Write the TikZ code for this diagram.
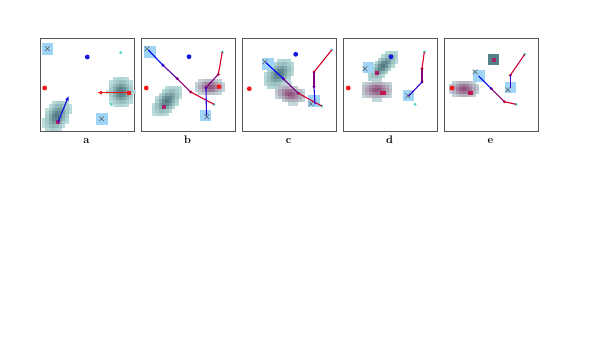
\documentclass[tikz,border=0pt]{standalone}
\usepackage{tikz}
\usetikzlibrary{arrows.meta}
\definecolor{hmpale}{HTML}{C6ECE8}
\definecolor{hmteal}{HTML}{3F6E76}
\definecolor{hmmag}{HTML}{864070}
\definecolor{hmcore}{HTML}{A8206C}
\definecolor{boxblue}{HTML}{9FD4F7}
\definecolor{dotblue}{HTML}{1414E0}
\definecolor{dotred}{HTML}{F01818}
\definecolor{dotcyan}{HTML}{5ED6CE}
\definecolor{framegray}{HTML}{555555}
\tikzset{
  panel/.style={draw=framegray, line width=0.9pt},
  plabel/.style={font=\fontsize{11}{13}\selectfont\bfseries, inner sep=0pt, anchor=base},
  xbox/.style={fill=boxblue, minimum size=11.5pt, inner sep=0pt},
  xmark/.style={text=black!75, font=\small\boldmath, inner sep=0pt},
  bigdot/.style={circle, fill=#1, minimum size=4.8pt, inner sep=0pt},
  smalldot/.style={circle, fill=dotcyan, minimum size=3.4pt, inner sep=0pt},
  vdot/.style={circle, fill=#1, minimum size=3.2pt, inner sep=0pt},
  core/.style={fill=hmcore, minimum size=3.8pt, inner sep=0pt},
  seg/.style={draw=#1, line width=1.1pt},
  push/.style={-{Latex[length=4.5pt,width=4pt]}, draw=#1, line width=1.2pt}
}
\newcommand{\heatblob}[6]{%
  \foreach \i in {-4,...,4}{
    \foreach \j in {-4,...,4}{
      \pgfmathsetmacro{\hu}{(\i*cos(#5)+\j*sin(#5))/(1.25*#3)}
      \pgfmathsetmacro{\hv}{(-\i*sin(#5)+\j*cos(#5))/(1.25*#4)}
      \pgfmathsetmacro{\hw}{exp(-min(\hu*\hu+\hv*\hv,9))}
      \pgfmathtruncatemacro{\hm}{100*\hw^0.7}
      \ifnum\hm>12
        \fill[#6!\hm!hmpale, fill opacity=0.9] ({#1+3.3*\i-1.65},{#2+3.3*\j-1.65}) rectangle ++(3.3,3.3);
      \fi
    }}}

\begin{document}
\begin{tikzpicture}[x=1pt, y=-1pt]
  \useasboundingbox (0,0) rectangle (607,341);
  \foreach \px/\pl in {40.5/a, 141.5/b, 242.5/c, 343.5/d, 444.5/e}{
    \draw[panel] (\px,38) rectangle ++(94,93.5);
    \node[plabel] (lab\pl) at (\px+46,143.9) {\pl};
  }

  \heatblob{57}{116}{2.6}{1.7}{-60}{hmteal}
  \heatblob{121}{92}{2.2}{1.9}{90}{hmteal}
  \node[xbox] (ba1) at (47.5,48.8) {};
  \node[xmark] (xa1) at (ba1) {$\times$};
  \node[xbox] (ba2) at (101.8,119) {};
  \node[xmark] (xa2) at (ba2) {$\times$};
  \node[bigdot=dotblue] (ga) at (87.3,57) {};
  \node[bigdot=dotred] (ra) at (44.7,88) {};
  \node[smalldot] (ca1) at (120.7,52.7) {};
  \node[smalldot] (ca2) at (111.3,104.3) {};
  \node[core] (ka1) at (58,122) {};
  \node[core, fill=dotred] (ka2) at (128.7,92.7) {};
  \coordinate (ea1) at (68.7,96);
  \coordinate (ea2) at (97.3,92.7);
  \draw[push=dotblue] (ka1.center) -- (ea1);
  \draw[push=dotred] (ka2.center) -- (ea2);

  \heatblob{167}{101}{2.7}{1.5}{-50}{hmteal}
  \heatblob{210}{87}{2.2}{1.3}{0}{hmmag}
  \node[xbox] (bb1) at (149.8,51.8) {};
  \node[xbox] (bb2) at (205.7,115.5) {};
  \node[xmark] (xb1) at (147.3,49.3) {$\times$};
  \node[xmark] (xb2) at (207,117) {$\times$};
  \node[core] (kb1) at (164,107) {};
  \node[bigdot=dotblue] (gb) at (189,56.7) {};
  \node[bigdot=dotred] (rb) at (146.3,88) {};
  \node[bigdot=dotred] (rb2) at (219,86.7) {};
  \node[smalldot] (cb1) at (222.3,52) {};
  \node[smalldot] (cb2) at (214,104.3) {};
  \coordinate (pb0) at (148.3,50);
  \node[vdot=blue!75!red] (pb1) at (163,65.3) {};
  \node[vdot=blue!50!red] (pb2) at (177.3,78.7) {};
  \node[vdot=blue!30!red] (pb3) at (190.7,92) {};
  \node[vdot=blue!20!red] (qb1) at (218.3,74.3) {};
  \node[vdot=blue!60!red] (qb2) at (206,87.7) {};
  \coordinate (qb3) at (206.5,115.3);
  \draw[seg=blue] (pb0) -- (pb1.center);
  \draw[seg=blue!65!red] (pb1.center) -- (pb2.center);
  \draw[seg=blue!45!red] (pb2.center) -- (pb3.center);
  \draw[seg=red!85!blue] (pb3.center) -- (cb2.center);
  \draw[seg=red!85!blue] (cb1.center) -- (qb1.center);
  \draw[seg=blue!50!red] (qb1.center) -- (qb2.center);
  \draw[seg=blue!85!red] (qb2.center) -- (qb3);

  \heatblob{279}{74}{2.6}{1.7}{-45}{hmteal}
  \heatblob{290}{94}{2.4}{1.4}{15}{hmmag}
  \node[xbox] (bc1) at (268,64) {};
  \node[xbox] (bc2) at (314,101) {};
  \node[xmark] (xc1) at (265,62.7) {$\times$};
  \node[xmark] (xc2) at (311,104.3) {$\times$};
  \node[bigdot=dotblue] (gc) at (295.7,54.3) {};
  \node[bigdot=dotred] (rc) at (249.3,88.7) {};
  \node[smalldot] (cc1) at (331.7,50) {};
  \node[smalldot] (cc2) at (321.7,106) {};
  \coordinate (pc0) at (266,62.7);
  \node[vdot=blue!70!red] (pc1) at (283.3,78.7) {};
  \node[vdot=blue!40!red] (pc2) at (298.3,93.3) {};
  \node[vdot=blue!25!red] (qc1) at (314,72) {};
  \node[vdot=blue!55!red] (qc2) at (314,86.7) {};
  \coordinate (qc3) at (315,104.3);
  \draw[seg=blue] (pc0) -- (pc1.center);
  \draw[seg=blue!55!red] (pc1.center) -- (pc2.center);
  \draw[seg=red!80!blue] (pc2.center) -- (cc2.center);
  \draw[seg=red!85!blue] (cc1.center) -- (qc1.center);
  \draw[seg=blue!50!red] (qc1.center) -- (qc2.center);
  \draw[seg=blue!85!red] (qc2.center) -- (qc3);

  \heatblob{383}{66}{3}{1.2}{-45}{hmteal}
  \heatblob{377}{90}{2.5}{1.5}{0}{hmmag}
  \node[core] (kd1) at (377,72.7) {};
  \node[core, minimum width=6pt, fill=hmcore!70!red] (kd2) at (382.7,92.7) {};
  \node[xbox] (bd1) at (368.5,67.7) {};
  \node[xbox] (bd2) at (408.7,95.5) {};
  \node[xmark] (xd1) at (365,69.3) {$\times$};
  \node[xmark] (xd2) at (408,96) {$\times$};
  \node[bigdot=dotblue] (gd) at (391,56.7) {};
  \node[bigdot=dotred] (rd) at (348.3,88) {};
  \node[smalldot] (cd1) at (424.3,52) {};
  \node[smalldot] (cd2) at (415,104.3) {};
  \node[vdot=blue!25!red] (qd1) at (422,68.7) {};
  \node[vdot=blue!55!red] (qd2) at (422,82) {};
  \coordinate (qd3) at (408.7,96);
  \draw[seg=red!85!blue] (cd1.center) -- (qd1.center);
  \draw[seg=blue!50!red] (qd1.center) -- (qd2.center);
  \draw[seg=blue!80!red] (qd2.center) -- (qd3);

  \heatblob{464}{89}{2.3}{1.4}{0}{hmmag}
  \node[fill=hmteal!85!hmpale, minimum size=11pt, inner sep=0pt] (te) at (493.7,59.8) {};
  \node[core] (ke) at (te) {};
  \node[core, minimum width=5pt, fill=hmcore!70!red] (ke2) at (470.3,92.7) {};
  \node[xbox] (be1) at (479,76) {};
  \node[xbox] (be2) at (510.3,87.7) {};
  \node[xmark] (xe1) at (475.3,72.7) {$\times$};
  \node[xmark] (xe2) at (508,90.3) {$\times$};
  \node[bigdot=dotred] (re) at (452,88) {};
  \node[smalldot] (ce1) at (524.7,54.3) {};
  \node[smalldot] (ce2) at (516,104.3) {};
  \coordinate (pe0) at (478.7,76);
  \node[vdot=blue!60!red] (pe1) at (491.3,88.7) {};
  \node[vdot=blue!30!red] (pe2) at (504.3,101.7) {};
  \node[vdot=blue!40!red] (qe1) at (510.3,75.3) {};
  \coordinate (qe2) at (510.3,87.7);
  \draw[seg=blue] (pe0) -- (pe1.center);
  \draw[seg=blue!45!red] (pe1.center) -- (pe2.center);
  \draw[seg=red!85!blue] (pe2.center) -- (ce2.center);
  \draw[seg=red!80!blue] (ce1.center) -- (qe1.center);
  \draw[seg=blue!75!red] (qe1.center) -- (qe2);
\end{tikzpicture}
\end{document}
